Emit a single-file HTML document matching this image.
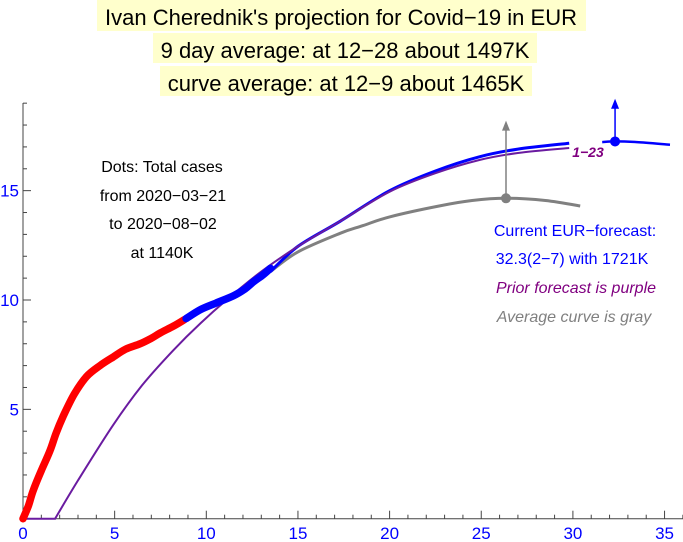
<!DOCTYPE html>
<html><head><meta charset="utf-8"><style>
body{margin:0;background:#fff;}
svg{display:block;font-family:"Liberation Sans",Arial,sans-serif;}
</style></head><body>
<svg id="chart" width="683" height="542" viewBox="0 0 683 542" xmlns="http://www.w3.org/2000/svg">
<g font-size="22" text-anchor="middle" fill="#000">
<rect x="97" y="0" width="489" height="31" fill="#ffffcc"/>
<rect x="153" y="33" width="384" height="30" fill="#ffffcc"/>
<rect x="160" y="66" width="372" height="30" fill="#ffffcc"/>
<text x="341" y="25">Ivan Cherednik's projection for Covid−19 in EUR</text>
<text x="345" y="58">9 day average: at 12−28 about 1497K</text>
<text x="346" y="91">curve average: at 12−9 about 1465K</text>
</g>
<g id="axes"></g>
<g id="series"></g>
<g font-size="16" text-anchor="middle">
<text x="162" y="172">Dots: Total cases</text>
<text x="163" y="201">from 2020−03−21</text>
<text x="163" y="229">to 2020−08−02</text>
<text x="162" y="258">at 1140K</text>
<text x="575" y="236" fill="#0000ff">Current EUR−forecast:</text>
<text x="572" y="264" fill="#0000ff">32.3(2−7) with 1721K</text>
<text x="576" y="293" fill="#800080" font-style="italic">Prior forecast is purple</text>
<text x="574" y="322" fill="#808080" font-style="italic">Average curve is gray</text>
<text x="588" y="157" fill="#800080" font-style="italic" font-weight="bold" font-size="14">1−23</text>
</g>
</svg>
<script>
const xTicks=[0,5,10,15,20,25,30,35];
const yTicks=[5,10,15];
const redX=[0,0.3,0.56,1.0,1.47,1.8,2.2,2.8,3.47,4.2,4.93,5.6,6.4,7.0,7.5,8.2,8.8];
const redY=[0,0.6,1.3,2.2,3.1,3.9,4.7,5.7,6.5,7.0,7.4,7.75,8.0,8.25,8.5,8.8,9.1];
const blueDotX=[8.9,9.66,10.5,11.5,12.1,12.6,13.1,13.5];
const blueDotY=[9.15,9.55,9.85,10.2,10.5,10.85,11.15,11.45];
const purpleX=[0,1.75,3,4.93,6.5,8.2,9.7,11.1,13,15,17.3,20,22.5,24.9,27,29.8];
const purpleY=[0,0,1.75,4.3,6.1,7.7,8.95,10,11.3,12.45,13.6,14.95,15.8,16.4,16.72,16.95];
const blueX=[13.5,15,17.3,20,22.5,24.9,27,29.8];
const blueY=[11.3,12.45,13.6,15.0,15.9,16.55,16.9,17.17];
const blue2X=[31.6,32.3,33.5,35.3];
const blue2Y=[17.22,17.25,17.22,17.1];
const grayX=[13.5,15,17.3,18.55,20,22.7,24.5,26.35,28.5,30.4];
const grayY=[11.3,12.2,13.05,13.4,13.8,14.3,14.55,14.65,14.55,14.3];
const grayMark={x:26.35,y:14.65,top:18.2};
const blueMark={x:32.3,y:17.25,top:19.2};
const X=v=>23+v*18.33, Y=v=>518.7-v*21.87;
const NS="http://www.w3.org/2000/svg";
function mk(tag,attrs,parent){const e=document.createElementNS(NS,tag);for(const k in attrs)e.setAttribute(k,attrs[k]);parent.appendChild(e);return e;}
function smooth(xs,ys){const p=xs.map((x,i)=>[X(x),Y(ys[i])]);let d='M'+p[0][0].toFixed(1)+','+p[0][1].toFixed(1);
for(let i=0;i<p.length-1;i++){const p0=p[Math.max(0,i-1)],p1=p[i],p2=p[i+1],p3=p[Math.min(p.length-1,i+2)];
const c1=[p1[0]+(p2[0]-p0[0])/6,p1[1]+(p2[1]-p0[1])/6],c2=[p2[0]-(p3[0]-p1[0])/6,p2[1]-(p3[1]-p1[1])/6];
d+=` C${c1[0].toFixed(1)},${c1[1].toFixed(1)} ${c2[0].toFixed(1)},${c2[1].toFixed(1)} ${p2[0].toFixed(1)},${p2[1].toFixed(1)}`;}return d;}
const ax=document.getElementById('axes'), se=document.getElementById('series');
let e=mk('line',{x1:X(0),y1:Y(0),x2:683,y2:Y(0),stroke:'#444','stroke-width':1},ax);


e=mk('line',{x1:X(0),y1:Y(0),x2:X(0),y2:103,stroke:'#444','stroke-width':1},ax);


for(let i=1;i<=36;i++){const maj=i%5===0;mk('line',{x1:X(i),x2:X(i),y1:Y(0),y2:Y(0)-(maj?8:4),stroke:'#444'},ax);}
for(let i=1;i<=19;i++){const maj=i%5===0;mk('line',{x1:X(0),x2:X(0)+(maj?8:4),y1:Y(i),y2:Y(i),stroke:'#444'},ax);}
xTicks.forEach(t=>{const tx=mk('text',{x:X(t),y:539,'text-anchor':'middle','font-size':17,fill:'#0000ff'},ax);tx.textContent=t;

});
yTicks.forEach(t=>{const tx=mk('text',{x:19,y:Y(t)+6,'text-anchor':'end','font-size':17,fill:'#0000ff'},ax);tx.textContent=t;

});
e=mk('path',{d:smooth(grayX,grayY),fill:'none',stroke:'#808080','stroke-width':3},se);


e=mk('path',{d:smooth(blueX,blueY),fill:'none',stroke:'#0000ff','stroke-width':3},se);


e=mk('path',{d:smooth(blue2X,blue2Y),fill:'none',stroke:'#0000ff','stroke-width':2.5},se);


const pd='M'+X(purpleX[0]).toFixed(1)+','+Y(purpleY[0]).toFixed(1)+' L'+smooth(purpleX.slice(1),purpleY.slice(1)).slice(1);
e=mk('path',{d:pd,fill:'none',stroke:'#6a1ba0','stroke-width':2},se);


e=mk('path',{d:smooth(redX,redY),fill:'none',stroke:'#ff0000','stroke-width':7.5,'stroke-linecap':'round','stroke-linejoin':'round'},se);


e=mk('path',{d:smooth(blueDotX,blueDotY),fill:'none',stroke:'#0000ff','stroke-width':7.5,'stroke-linecap':'round','stroke-linejoin':'round'},se);


[[grayMark,'#808080','average-peak'],[blueMark,'#0000ff','forecast-peak']].forEach(([m,c,n])=>{
const g=mk('g',{},se);


mk('line',{x1:X(m.x),x2:X(m.x),y1:Y(m.y),y2:Y(m.top)+8,stroke:c,'stroke-width':1.5},g);
mk('polygon',{points:`${X(m.x)},${Y(m.top)} ${X(m.x)-4},${Y(m.top)+10} ${X(m.x)+4},${Y(m.top)+10}`,fill:c},g);
mk('circle',{cx:X(m.x),cy:Y(m.y),r:5,fill:c},g);
});
</script>
</body></html>
